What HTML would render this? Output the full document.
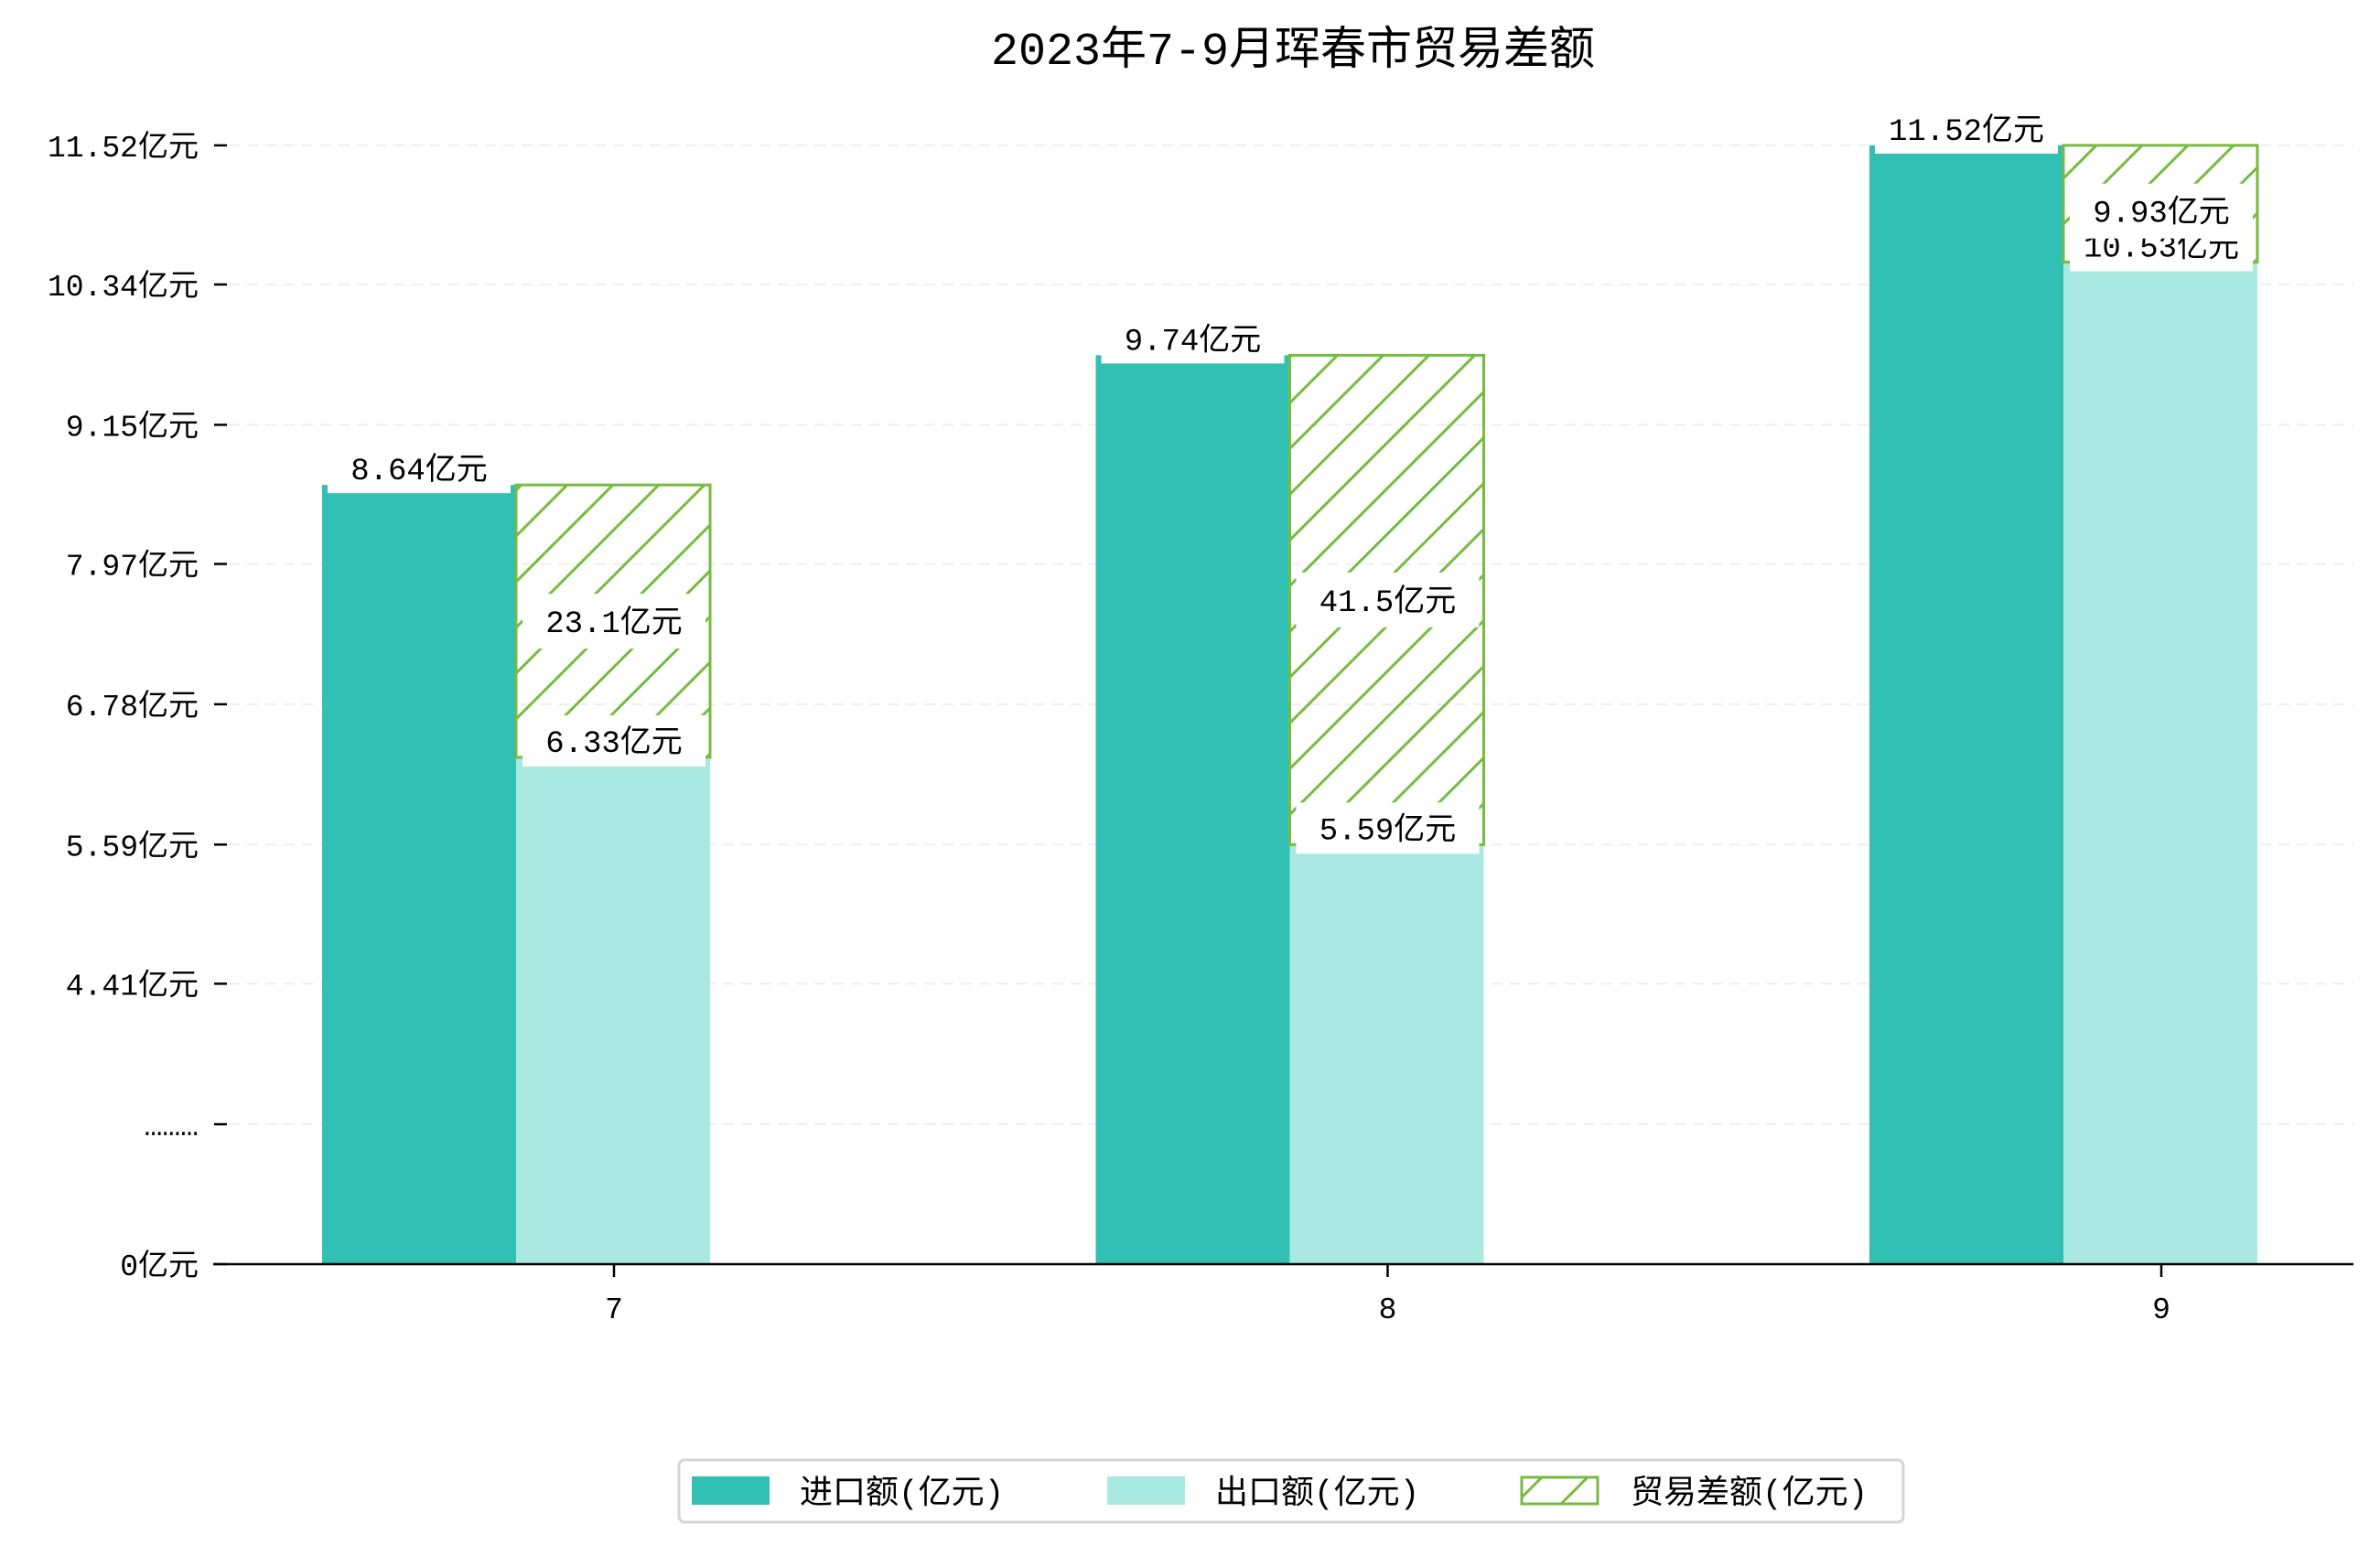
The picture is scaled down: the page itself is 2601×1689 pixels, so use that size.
<!DOCTYPE html>
<html><head><meta charset="utf-8"><style>
html,body{margin:0;padding:0;background:#fff;}
svg{display:block;font-family:"Liberation Mono","Noto Sans CJK SC",monospace;}
</style></head><body>
<svg id="chart" width="2601" height="1689" viewBox="0 0 2601 1689">
<defs>
<pattern id="hatch" patternUnits="userSpaceOnUse" width="50" height="50">
<path d="M-5,55 L55,-5 M-30,30 L30,-30 M20,80 L80,20" stroke="#77bb41" stroke-width="3"/>
</pattern>
</defs>
<text x="1413" y="70" font-size="50" text-anchor="middle" fill="#000">2023年7-9月珲春市贸易差额</text>
<g id="grid"></g>
<g id="bars"></g>
<g id="labels"></g>
<g id="axes"></g>
<g>
<rect x="742" y="1596" width="1338" height="68" rx="6" fill="#fff" stroke="#d5d5d5" stroke-width="3"/>
<rect x="756" y="1614" width="85" height="31" fill="#31c0b3"/>
<text x="874" y="1643" font-size="36">进口额(亿元)</text>
<rect x="1210" y="1614" width="85" height="31" fill="#aae8e2"/>
<text x="1328" y="1643" font-size="36">出口额(亿元)</text>
<rect x="1663" y="1615" width="83" height="29" fill="url(#hatch)" stroke="#77bb41" stroke-width="3"/>
<text x="1782" y="1643" font-size="36">贸易差额(亿元)</text>
</g>
</svg>
<script>
const categories = ['7','8','9'];
const importValues = [8.64, 9.74, 11.52];
const exportValues = [6.33, 5.59, 10.53];
const balanceLabels = ['23.1', '41.5', '9.93'];
const tickValues = [11.52, 10.34, 9.15, 7.97, 6.78, 5.59, 4.41, 2.2, 0];
const tickLabels = ['11.52亿元','10.34亿元','9.15亿元','7.97亿元','6.78亿元','5.59亿元','4.41亿元','………','0亿元'];

const NS = 'http://www.w3.org/2000/svg';
const y0 = 1382, yBreak = 1075.4, pxPerUnit = 128.9, breakVal = 4.41;
function yScale(v){
  if (v >= breakVal) return yBreak - (v - breakVal) * pxPerUnit;
  return y0 - (v / breakVal) * (y0 - yBreak);
}
const xLeft = 233, xRight = 2572;
function xCenter(i){ return 671 + i * 845.5; }
const barW = 212;
function mk(tag, attrs, parent){
  const e = document.createElementNS(NS, tag);
  for (const k in attrs) e.setAttribute(k, attrs[k]);
  parent.appendChild(e);
  return e;
}
const grid = document.getElementById('grid');
const bars = document.getElementById('bars');
const labels = document.getElementById('labels');
const axes = document.getElementById('axes');

tickValues.forEach((v, i) => {
  const y = yScale(v);
  if (i < tickValues.length - 1) {
    const g = mk('line', {x1: 250, x2: xRight, y1: y, y2: y, stroke: '#eeeeee', 'stroke-width': 2, 'stroke-dasharray': '12,8'}, grid);
    
    
  }
  const t = mk('line', {x1: 234, x2: 248, y1: y, y2: y, stroke: '#000', 'stroke-width': 2.5}, axes);
  
  
  const l = mk('text', {x: 217, y: y + 12, 'font-size': 33, 'text-anchor': 'end', fill: '#000'}, axes);
  l.textContent = tickLabels[i];
  
  
});

const ax = mk('line', {x1: xLeft, x2: xRight, y1: y0, y2: y0, stroke: '#000', 'stroke-width': 2.5}, axes);



categories.forEach((c, i) => {
  const cx = xCenter(i);
  const yi = yScale(importValues[i]);
  const ye = yScale(exportValues[i]);
  const bi = mk('rect', {x: cx - 319, y: yi, width: barW, height: y0 - yi, fill: '#31c0b3'}, bars);
  
  
  const be = mk('rect', {x: cx - 107, y: ye, width: barW, height: y0 - ye, fill: '#aae8e2'}, bars);
  
  
  const top = Math.min(yi, ye), bot = Math.max(yi, ye);
  const bh = mk('rect', {x: cx - 107, y: top, width: barW, height: bot - top, fill: 'url(#hatch)', stroke: '#77bb41', 'stroke-width': 3}, bars);
  
  

  function label(cxL, cy, w, h, txt, name){
    const r = mk('rect', {x: cxL - w/2, y: cy - h/2, width: w, height: h, fill: '#fff'}, labels);
    
    
    const t = mk('text', {x: cxL, y: cy + 12, 'font-size': 34, 'text-anchor': 'middle', fill: '#000'}, labels);
    t.textContent = txt;
    
    
  }
  label(cx - 213, yi - 18, 200, 54, importValues[i].toFixed(2) + '亿元', 'import-label-' + c);
  label(cx, ye - 18, 200, 56, exportValues[i].toFixed(2) + '亿元', 'export-label-' + c);
  label(cx, (top + bot) / 2 + (i === 2 ? 8 : 0), 200, 60, balanceLabels[i] + '亿元', 'balance-label-' + c);

  const xt = mk('line', {x1: cx, x2: cx, y1: y0, y2: y0 + 14, stroke: '#000', 'stroke-width': 2.5}, axes);
  
  
  const xl = mk('text', {x: cx, y: 1441, 'font-size': 33, 'text-anchor': 'middle', fill: '#000'}, axes);
  xl.textContent = c;
  
  
});
</script>
</body></html>
